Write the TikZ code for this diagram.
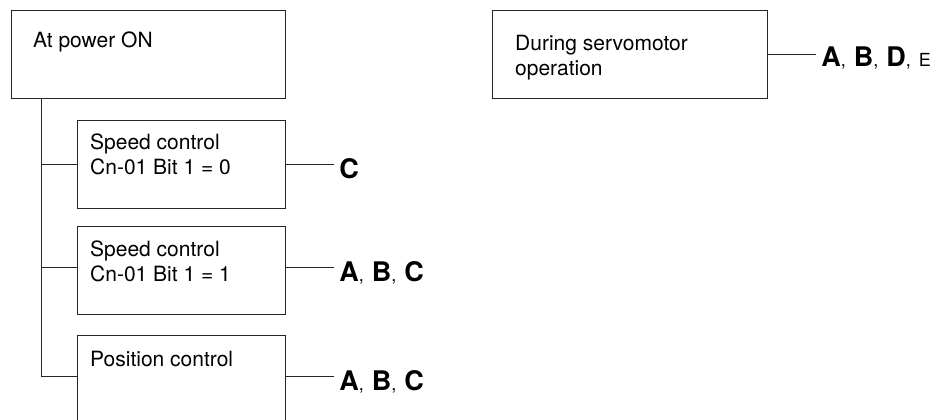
\documentclass[tikz,border=0pt]{standalone}
\usepackage{fontspec}
\setmainfont{TeX Gyre Heros}
\usepackage{tikz}
\usetikzlibrary{positioning}
\definecolor{inkx}{HTML}{262626}
\newcommand{\keyl}[1]{{\fontsize{27}{30}\selectfont\bfseries #1}}
\newcommand{\ksep}{{\fontsize{18}{22}\selectfont,}\hspace{8pt}}
\newcommand{\keysm}[1]{{\fontsize{18}{22}\selectfont #1}}
\tikzset{
  box/.style={draw=inkx,line width=1.1pt,minimum width=208pt,minimum height=88pt,inner sep=0pt,anchor=north west},
  wbox/.style={box,minimum width=274pt},
  txt/.style={font=\fontsize{21}{25}\selectfont,align=left,inner sep=0pt,anchor=base west},
  key/.style={inner xsep=5pt,inner ysep=0pt,anchor=base west},
  ln/.style={draw=inkx,line width=1.1pt}
}

\begin{document}
\begin{tikzpicture}[x=1pt,y=-1pt]
\useasboundingbox (0,0) rectangle (937,420);
\clip (0,0) rectangle (937,420);
% boxes
\node[wbox] (power) at (11,10) {};
\node[box] (speed0) at (77,120) {};
\node[box] (speed1) at (77,226) {};
\node[box] (posn) at (77,335) {};
\node[wbox,minimum width=275pt] (servo) at (492,10) {};
% box texts (base = last line)
\node[txt] (powertxt) at ([shift={(22,38)}]power.north west) {At power ON};
\node[txt] (speed0txt) at ([shift={(13,54.5)}]speed0.north west) {Speed control\\Cn-01 Bit 1 = 0};
\node[txt] (speed1txt) at ([shift={(13,55.7)}]speed1.north west) {Speed control\\Cn-01 Bit 1 = 1};
\node[txt] (posntxt) at ([shift={(13,31.7)}]posn.north west) {Position control};
\node[txt] (servotxt) at ([shift={(23,66)}]servo.north west) {During servomotor\\operation};
% keys
\node[key] (servokey) at ([shift={(48,12)}]servo.east) {\keyl{A}\ksep\keyl{B}\ksep\keyl{D}\ksep\keysm{E}};
\node[key] (speed0key) at ([shift={(48,14)}]speed0.east) {\keyl{C}};
\node[key] (speed1key) at ([shift={(48,11)}]speed1.east) {\keyl{A}\ksep\keyl{B}\ksep\keyl{C}};
\node[key] (posnkey) at ([shift={(48,11)}]posn.east) {\keyl{A}\ksep\keyl{B}\ksep\keyl{C}};
% tree
\coordinate (trunk) at ([xshift=30.5pt]power.south west);
\draw[ln] (trunk) |- ([yshift=3pt]posn.west);
\draw[ln] (speed0.west) -- (speed0.west -| trunk);
\draw[ln] ([yshift=3pt]speed1.west) -- ([yshift=3pt]speed1.west -| trunk);
% outputs
\draw[ln] (servo.east) -- (servo.east -| servokey.west);
\draw[ln] (speed0.east) -- (speed0.east -| speed0key.west);
\draw[ln] ([yshift=3pt]speed1.east) -- ([yshift=3pt]speed1.east -| speed1key.west);
\draw[ln] ([yshift=3pt]posn.east) -- ([yshift=3pt]posn.east -| posnkey.west);
\end{tikzpicture}
\end{document}
